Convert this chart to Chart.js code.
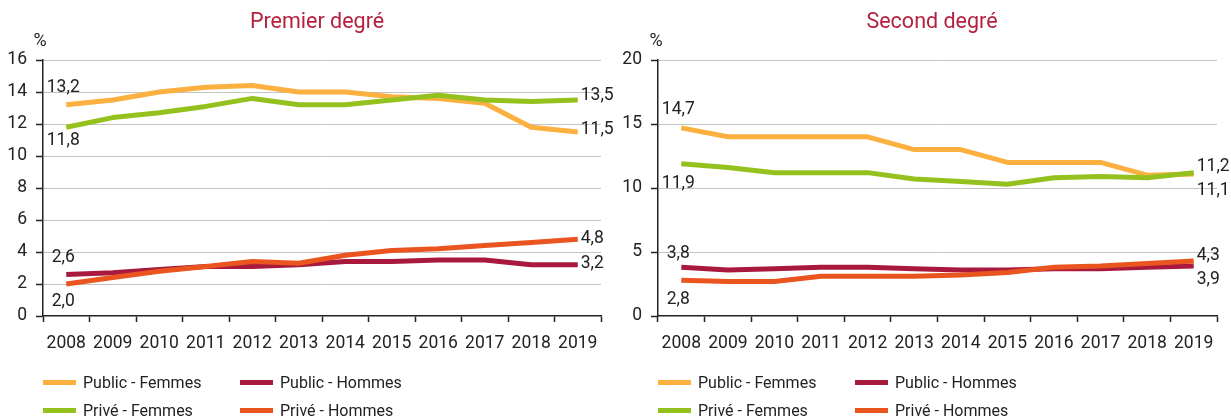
<!DOCTYPE html>
<html lang="fr">
<head>
<meta charset="utf-8">
<script src="https://cdn.jsdelivr.net/npm/chart.js@4.4.1/dist/chart.umd.min.js"></script>
<style>
    body { margin: 0; background: #fff; width: 1231px; height: 418px; overflow: hidden; position: relative; }
    .panel { position: absolute; top: 0; width: 615px; height: 418px; }
    .panel canvas { position: absolute; left: 0; top: 0; }
    .title { position: absolute; top: 8px; font: 21.5px Roboto, sans-serif; color: #b5213f; white-space: nowrap; transform: translateX(-50%); }
    .unit { position: absolute; top: 29px; font: 18px Roboto, sans-serif; color: #222; transform: translateX(-50%); }
    .legend { position: absolute; left: 43px; top: 371px; display: grid; grid-template-columns: 197px 200px; row-gap: 6px; }
    .legend .item { display: flex; align-items: center; height: 22px; font: 16px Roboto, sans-serif; color: #222; white-space: nowrap; }
    .legend .swatch { width: 33px; height: 5px; margin-right: 7px; }
</style>
</head>
<body>
<div class="panel" id="panelPremier" style="left:0">
    <canvas id="chartPremier" width="615" height="418"></canvas>
    <div class="title" style="left:317px">Premier degré</div>
    <div class="unit" style="left:40px">%</div>
    <div class="legend" id="legendPremier"></div>
</div>
<div class="panel" id="panelSecond" style="left:615px; width:616px">
    <canvas id="chartSecond" width="616" height="418"></canvas>
    <div class="title" style="left:317px">Second degré</div>
    <div class="unit" style="left:41px">%</div>
    <div class="legend" id="legendSecond"></div>
</div>
<script>
// --- Data ---
const years = ['2008', '2009', '2010', '2011', '2012', '2013', '2014', '2015', '2016', '2017', '2018', '2019'];
const seriesNames = ['Public - Femmes', 'Public - Hommes', 'Privé - Femmes', 'Privé - Hommes'];

const premierPublicFemmes = [13.2, 13.5, 14.0, 14.3, 14.4, 14.0, 14.0, 13.7, 13.6, 13.3, 11.8, 11.5];
const premierPublicHommes = [2.6, 2.7, 2.9, 3.1, 3.1, 3.2, 3.4, 3.4, 3.5, 3.5, 3.2, 3.2];
const premierPriveFemmes = [11.8, 12.4, 12.7, 13.1, 13.6, 13.2, 13.2, 13.5, 13.8, 13.5, 13.4, 13.5];
const premierPriveHommes = [2.0, 2.4, 2.8, 3.1, 3.4, 3.3, 3.8, 4.1, 4.2, 4.4, 4.6, 4.8];

const secondPublicFemmes = [14.7, 14.0, 14.0, 14.0, 14.0, 13.0, 13.0, 12.0, 12.0, 12.0, 11.0, 11.1];
const secondPublicHommes = [3.8, 3.6, 3.7, 3.8, 3.8, 3.7, 3.6, 3.6, 3.7, 3.7, 3.8, 3.9];
const secondPriveFemmes = [11.9, 11.6, 11.2, 11.2, 11.2, 10.7, 10.5, 10.3, 10.8, 10.9, 10.8, 11.2];
const secondPriveHommes = [2.8, 2.7, 2.7, 3.1, 3.1, 3.1, 3.2, 3.4, 3.8, 3.9, 4.1, 4.3];

const premierTicks = { max: 16, step: 2 };
const secondTicks = { max: 20, step: 5 };

// --- Styles ---
const seriesColors = ['#fbb040', '#a8193d', '#95c11f', '#e9541f'];
const numFont = { family: 'Roboto, sans-serif', size: 17.5 };

// vertical offsets of the first / last value labels, per series
const premierLabelDy = { start: [-17, -17, 13, 18], end: [-2, -1, -4, -1] };
const secondLabelDy = { start: [-18, -14, 20, 19], end: [17, 14, -6, -5] };

const fmt = v => v.toFixed(1).replace('.', ',');

const endLabels = {
    id: 'endLabels',
    afterDatasetsDraw(chart, args, opts) {
        const ctx = chart.ctx;
        ctx.save();
        ctx.font = `${numFont.size}px ${numFont.family}`;
        ctx.fillStyle = '#222';
        ctx.textBaseline = 'middle';
        chart.data.datasets.forEach((ds, i) => {
            const pts = chart.getDatasetMeta(i).data;
            const first = pts[0], last = pts[pts.length - 1];
            ctx.textAlign = 'center';
            ctx.fillText(fmt(ds.data[0]), first.x - 3, first.y + opts.dy.start[i]);
            ctx.textAlign = 'left';
            ctx.fillText(fmt(ds.data[ds.data.length - 1]), last.x + 3, last.y + opts.dy.end[i]);
        });
        ctx.restore();
    }
};

function buildLegend(id) {
    const el = document.getElementById(id);
    el.innerHTML = seriesNames.map((name, i) => `
        <div class="item"><span class="swatch" style="background:${seriesColors[i]}"></span>${name}</div>
    `).join('');
}

function makeChart(canvasId, seriesData, ticks, labelDy) {
    const ctx = document.getElementById(canvasId).getContext('2d');
    return new Chart(ctx, {
        type: 'line',
        data: {
            labels: years,
            datasets: seriesData.map((data, i) => ({
                label: seriesNames[i],
                data: data,
                borderColor: seriesColors[i],
                backgroundColor: seriesColors[i],
                borderWidth: 5,
                borderJoinStyle: 'round',
                pointRadius: 0,
                tension: 0,
                fill: false,
                order: [4, 3, 2, 1][i]
            }))
        },
        options: {
            responsive: false,
            animation: false,
            layout: { padding: { top: 60, right: 14, bottom: 62, left: 0 } },
            plugins: {
                legend: { display: false },
                tooltip: { enabled: false },
                endLabels: { dy: labelDy }
            },
            scales: {
                x: {
                    offset: true,
                    grid: { display: true, offset: true, drawOnChartArea: false, tickLength: 6, tickColor: '#222', tickWidth: 1.5 },
                    border: { color: '#222', width: 1.5 },
                    ticks: { font: numFont, color: '#222', padding: 11, maxRotation: 0, autoSkip: false },
                    afterFit: scale => { scale.height = 40; }
                },
                y: {
                    min: 0,
                    max: ticks.max,
                    grid: { color: ctx => ctx.tick.value === 0 ? 'rgba(0,0,0,0)' : '#c4c4c4', lineWidth: 1, tickLength: 7, tickColor: '#222', tickWidth: 1.5 },
                    border: { color: '#222', width: 1.5 },
                    ticks: { stepSize: ticks.step, font: numFont, color: '#222', padding: 9 },
                    afterFit: scale => { scale.width = 43; }
                }
            }
        },
        plugins: [endLabels]
    });
}

makeChart('chartPremier', [premierPublicFemmes, premierPublicHommes, premierPriveFemmes, premierPriveHommes], premierTicks, premierLabelDy);
makeChart('chartSecond', [secondPublicFemmes, secondPublicHommes, secondPriveFemmes, secondPriveHommes], secondTicks, secondLabelDy);
buildLegend('legendPremier');
buildLegend('legendSecond');
</script>
</body>
</html>
